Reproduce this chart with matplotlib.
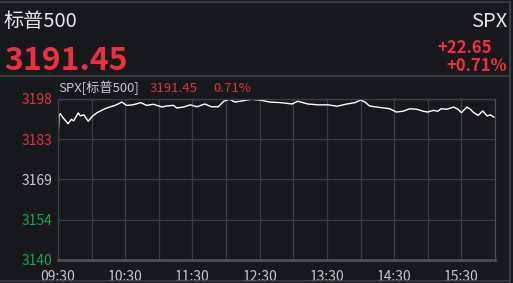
import matplotlib
matplotlib.use("Agg")
import matplotlib.pyplot as plt

plt.rcParams['font.family'] = ['Noto Sans CJK SC', 'DejaVu Sans']

# intraday SPX
times = ["09:30", "09:31", "09:32", "09:34", "09:39", "09:42", "09:44", "09:48",
         "09:50", "09:53", "09:57", "10:01", "10:05", "10:09", "10:12", "10:16",
         "10:21", "10:27", "10:31", "10:37", "10:44", "10:49", "10:55", "11:03",
         "11:07", "11:13", "11:16", "11:22", "11:28", "11:34", "11:41", "11:47",
         "11:53", "11:58", "12:03", "12:08", "12:14", "12:23", "12:32", "12:39",
         "12:48", "12:53", "12:59", "13:04", "13:13", "13:22", "13:31", "13:39",
         "13:48", "13:55", "14:00", "14:04", "14:08", "14:16", "14:26", "14:32",
         "14:38", "14:44", "14:50", "14:56", "15:00", "15:05", "15:09", "15:12",
         "15:17", "15:23", "15:27", "15:30", "15:35", "15:38", "15:41", "15:45",
         "15:49", "15:53", "15:56", "15:59"]
prices = [3183.7, 3192.2, 3192.7, 3191.5, 3189.1, 3190.7, 3190.1, 3193.0,
          3191.9, 3192.3, 3190.0, 3191.9, 3193.1, 3193.9, 3194.5, 3195.1,
          3195.7, 3196.9, 3195.7, 3195.9, 3196.7, 3195.7, 3196.1, 3195.1,
          3195.5, 3195.7, 3194.8, 3195.1, 3195.9, 3195.2, 3196.2, 3195.2,
          3195.2, 3197.2, 3197.9, 3196.9, 3197.3, 3197.9, 3197.5, 3196.9,
          3196.7, 3196.5, 3196.2, 3197.2, 3196.2, 3195.9, 3195.9, 3195.4,
          3196.2, 3196.7, 3197.6, 3196.9, 3195.5, 3195.0, 3194.5, 3193.3,
          3193.6, 3194.5, 3194.3, 3193.6, 3193.3, 3193.9, 3193.6, 3194.5,
          3194.3, 3195.1, 3194.3, 3193.1, 3195.1, 3194.3, 3193.1, 3192.1,
          3193.7, 3191.9, 3192.3, 3191.45]

y_ticks = [3140, 3154.5, 3169, 3183.5, 3198]
y_labels = ["3140", "3154", "3169", "3183", "3198"]
y_colors = ["#1fa347", "#1fa347", "#c8c8c8", "#d8343f", "#d8343f"]
x_labels = ["09:30", "10:30", "11:30", "12:30", "13:30", "14:30", "15:30"]
x_half = ["10:00", "11:00", "12:00", "13:00", "14:00", "15:00", "16:00"]

name = "标普500"
code = "SPX"
last = "3191.45"
change = "+22.65"
change_pct = "+0.71%"

BG = "#16181c"
GRID = "#3a3d42"
RED = "#ee2f3d"
W, H = 513, 283


def minutes(t):
    h, m = t.split(":")
    return (int(h) - 9) * 60 + int(m) - 30


x = [minutes(t) for t in times]

fig = plt.figure(figsize=(W / 100, H / 100), dpi=100, facecolor=BG)
ax = fig.add_axes([58 / W, 1 - 260 / H, (495 - 58) / W, (260 - 99) / H])
ax.set_facecolor(BG)

ax.plot(x, prices, color="white", lw=1.0)

ax.set_xlim(0, 390)
ax.set_ylim(3140, 3198)
ax.set_xticks([minutes(t) for t in x_labels])
ax.set_xticklabels(x_labels)
ax.set_xticks([minutes(t) for t in x_half], minor=True)
ax.set_yticks(y_ticks)
ax.set_yticklabels(y_labels)
for lab, c in zip(ax.get_yticklabels(), y_colors):
    lab.set_color(c)

ax.tick_params(axis="both", which="both", length=0)
ax.tick_params(axis="y", pad=4, labelsize=10)
ax.tick_params(axis="x", pad=7, labelsize=10, colors="#c8c8c8")
ax.grid(True, which="both", color=GRID, lw=0.9)
for s in ax.spines.values():
    s.set_color(GRID)
    s.set_linewidth(0.9)
ax.spines["bottom"].set_color("#4a4d52")
ax.spines["bottom"].set_linewidth(2)
ax.spines["right"].set_color("#4a4d52")

# frame lines
for yy in (1.5, 76.5, 281):
    fig.add_artist(plt.Line2D([0, 510 / W], [1 - yy / H] * 2, color=GRID, lw=1.2))
fig.add_artist(plt.Line2D([510 / W] * 2, [0, 1 - 1.5 / H], color=GRID, lw=1.5))

# header
fig.text(3 / W, 1 - 27 / H, name, color="#e6e6e6", fontsize=14.5, va="baseline")
fig.text(507 / W, 1 - 27 / H, code, color="#e6e6e6", fontsize=14.5,
         va="baseline", ha="right")
fig.text(4 / W, 1 - 70 / H, last, color=RED, fontsize=23, fontweight="bold",
         va="baseline")
fig.text(492 / W, 1 - 53 / H, change, color=RED, fontsize=12,
         fontweight="bold", va="baseline", ha="right")
fig.text(507 / W, 1 - 71 / H, change_pct, color=RED, fontsize=12,
         fontweight="bold", va="baseline", ha="right")

# legend row
fig.text(58 / W, 1 - 92 / H, code + "[" + name + "]", color="#c8c8c8",
         fontsize=9.5, va="baseline")
fig.text(150 / W, 1 - 92 / H, last, color="#d8343f", fontsize=9.5, va="baseline")
fig.text(213 / W, 1 - 92 / H, change_pct[1:], color="#d8343f", fontsize=9.5,
         va="baseline")

fig.savefig("out.png", dpi=100, facecolor=BG)
